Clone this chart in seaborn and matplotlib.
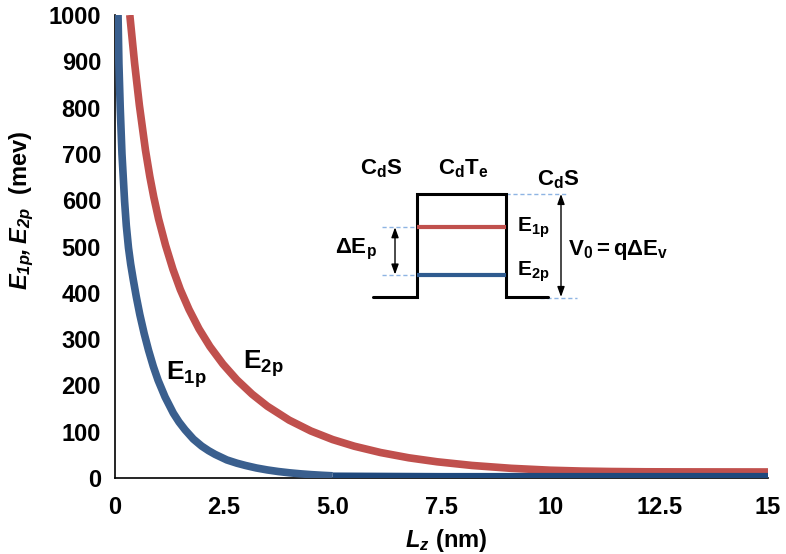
import matplotlib
matplotlib.use("Agg")
import matplotlib.pyplot as plt
import seaborn as sns
import pandas as pd

# ---------------- data ----------------
lz_e1p = [0.07, 0.09, 0.12, 0.16, 0.22, 0.26, 0.31, 0.36, 0.42, 0.49, 0.57,
          0.67, 0.77, 0.88, 0.99, 1.15, 1.34, 1.47, 1.61, 1.80, 1.99, 2.15,
          2.30, 2.57, 2.80, 3.00, 3.25, 3.50, 3.75, 4.00, 4.25, 4.50, 4.75, 5.00]
e1p = [1000, 895, 800, 700, 598, 545, 497, 462, 428, 391, 353,
       312, 276, 241, 211, 175, 140, 121, 104, 84, 69, 59,
       51, 39, 32, 27, 21.6, 17.4, 14, 11.3, 9.1, 7.3, 5.9, 4.7]
lz_e1p_tail = [5.0, 7.5, 10.0, 12.5, 15.0]
e1p_tail = [3, 2, 2, 2, 2]

lz_e2p = [0.34, 0.45, 0.56, 0.70, 0.80, 0.89, 1.00, 1.16, 1.33, 1.50, 1.70,
          1.93, 2.18, 2.48, 2.80, 3.15, 3.50, 4.00, 4.50, 5.00, 5.50, 6.10,
          6.75, 7.40, 8.20, 9.10, 10.0, 10.7, 11.4, 12.2, 13.0, 14.0, 15.0]
e2p = [1000, 896, 805, 708, 651, 607, 560, 503, 451, 407, 364,
       322, 284, 246, 212, 181, 155, 125, 101.5, 83, 68.6, 55,
       43.6, 35, 27.1, 20.9, 16.8, 15.0, 14.0, 13.4, 13.2, 13.1, 13.0]

x_ticks = [0, 2.5, 5, 7.5, 10, 12.5, 15]
x_tick_labels = ["0", "2.5", "5.0", "7.5", "10", "12.5", "15"]
y_ticks = list(range(0, 1001, 100))

# ---------------- style ----------------
sns.set_theme(style="white")
plt.rcParams["font.family"] = ["Liberation Sans", "DejaVu Sans"]
plt.rcParams["font.weight"] = "bold"
plt.rcParams["text.color"] = "black"
plt.rcParams["axes.labelcolor"] = "black"
plt.rcParams["xtick.color"] = "black"
plt.rcParams["ytick.color"] = "black"
plt.rcParams["mathtext.fontset"] = "custom"
plt.rcParams["mathtext.rm"] = "Liberation Sans:bold"
plt.rcParams["mathtext.bf"] = "Liberation Sans:bold"
plt.rcParams["mathtext.it"] = "Liberation Sans:italic:bold"
plt.rcParams["mathtext.bfit"] = "Liberation Sans:italic:bold"

RED = "#C0504D"
BLUE = "#3A5F8E"
DARKBLUE = "#1F497D"
TICK = "#8EB4E3"

fig = plt.figure(figsize=(7.86, 5.54), dpi=100)
ax = fig.add_axes([115 / 786, 76 / 554, 653 / 786, 463 / 554])

df1 = pd.DataFrame({"Lz": lz_e1p, "E": e1p})
df1t = pd.DataFrame({"Lz": lz_e1p_tail, "E": e1p_tail})
df2 = pd.DataFrame({"Lz": lz_e2p, "E": e2p})

sns.lineplot(data=df2, x="Lz", y="E", ax=ax, color=RED, lw=5.5, estimator=None,
             solid_capstyle="butt", solid_joinstyle="round", zorder=3)
sns.lineplot(data=df1t, x="Lz", y="E", ax=ax, color=DARKBLUE, lw=6, estimator=None,
             solid_capstyle="butt", zorder=4)
sns.lineplot(data=df1, x="Lz", y="E", ax=ax, color=BLUE, lw=5.5, estimator=None,
             solid_capstyle="butt", solid_joinstyle="round", zorder=4)

ax.set_xlim(0, 15)
ax.set_ylim(0, 1000)
ax.set_xticks(x_ticks)
ax.set_xticklabels(x_tick_labels)
ax.set_yticks(y_ticks)
ax.tick_params(axis="both", direction="in", length=5, width=1.3, color=TICK,
               labelsize=17, labelcolor="black")
ax.tick_params(axis="y", pad=10)
ax.tick_params(axis="x", pad=13)
for lab in ax.get_xticklabels() + ax.get_yticklabels():
    lab.set_fontweight("bold")

for s in ["top", "right"]:
    ax.spines[s].set_visible(False)
for s in ["left", "bottom"]:
    ax.spines[s].set_color("black")
    ax.spines[s].set_linewidth(1.2)

ax.set_xlabel(r"$\mathbfit{L_z}$ (nm)", fontsize=17, fontweight="bold", va="center",
              color="black")
ax.xaxis.set_label_coords(0.507, -0.134)
ax.set_ylabel(r"$\mathbfit{E_{1p}, E_{2p}}$  (mev)", fontsize=17, fontweight="bold",
              va="center", color="black")
ax.yaxis.set_label_coords(-0.142, 0.579)

# curve labels
ax.text(0.078, 0.212, r"$\mathbf{E_{1p}}$", transform=ax.transAxes, fontsize=19,
        ha="left", va="baseline")
ax.text(0.1965, 0.235, r"$\mathbf{E_{2p}}$", transform=ax.transAxes, fontsize=19,
        ha="left", va="baseline")

# ---------------- inset quantum-well schematic (axes fraction) ----------------
T = ax.transAxes
well_x = [0.3956, 0.4620, 0.4620, 0.5983, 0.5983, 0.6636]
well_y = [0.391, 0.391, 0.6134, 0.6134, 0.391, 0.391]
ax.plot(well_x, well_y, color="black", lw=2.2, transform=T, solid_joinstyle="miter",
        zorder=5)
lev1, lev2 = 0.5415, 0.4395
ax.plot([0.4620, 0.5983], [lev1, lev1], color=RED, lw=3, transform=T, zorder=5,
        solid_capstyle="butt")
ax.plot([0.4620, 0.5983], [lev2, lev2], color="#2F5B8F", lw=3, transform=T, zorder=5,
        solid_capstyle="butt")
dash = dict(color=TICK, lw=1, ls=(0, (3, 2)), transform=T, zorder=4)
ax.plot([0.4084, 0.4620], [lev1, lev1], **dash)
ax.plot([0.4084, 0.4620], [lev2, lev2], **dash)
ax.plot([0.5983, 0.6917], [0.6134, 0.6134], **dash)
ax.plot([0.651, 0.707], [0.3894, 0.3894], **dash)

arr = dict(arrowstyle="<|-|>,head_length=0.5,head_width=0.18", color="black", lw=1,
           shrinkA=0, shrinkB=0)
ax.annotate("", xy=(0.4288, lev1), xytext=(0.4288, lev2), xycoords=T, textcoords=T,
            arrowprops=arr)
ax.annotate("", xy=(0.683, 0.6134), xytext=(0.683, 0.391), xycoords=T, textcoords=T,
            arrowprops=arr)

ax.text(0.4084, 0.669, r"$\mathbf{C_dS}$", transform=T, fontsize=16, ha="center",
        va="center")
ax.text(0.5334, 0.669, r"$\mathbf{C_dT_e}$", transform=T, fontsize=16, ha="center",
        va="center")
ax.text(0.6789, 0.6436, r"$\mathbf{C_dS}$", transform=T, fontsize=16, ha="center",
        va="center")
ax.text(0.6151, 0.540, r"$\mathbf{E_{1p}}$", transform=T, fontsize=15, ha="left",
        va="center")
ax.text(0.6151, 0.4456, r"$\mathbf{E_{2p}}$", transform=T, fontsize=15, ha="left",
        va="center")
ax.text(0.6942, 0.4924, r"$\mathbf{V_0 = q\Delta E_v}$", transform=T, fontsize=16,
        ha="left", va="center")
ax.text(0.4012, 0.4935, r"$\mathbf{\Delta E_p}$", transform=T, fontsize=16, ha="right",
        va="center")

fig.savefig("out.png", dpi=100)
